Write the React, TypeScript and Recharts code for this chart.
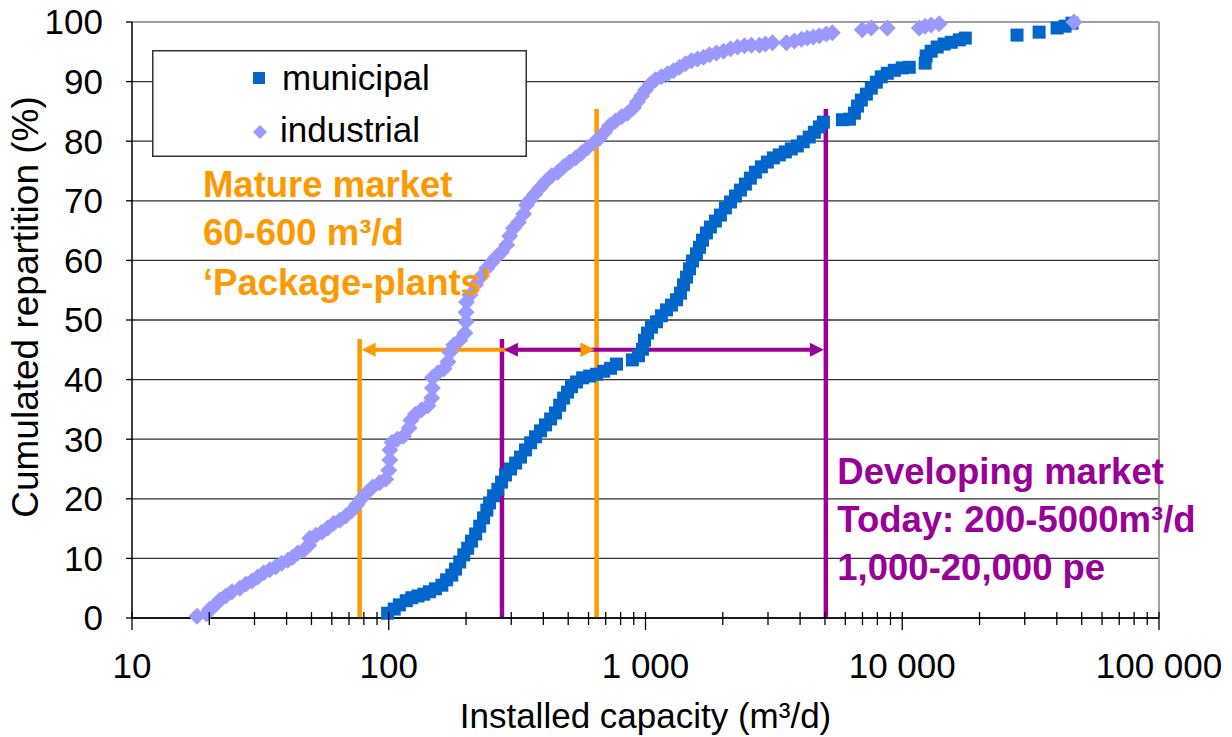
import React from 'react';
import {
  ScatterChart,
  Scatter,
  XAxis,
  YAxis,
  CartesianGrid,
  ReferenceLine,
  ReferenceDot,
  Legend,
  Label,
} from 'recharts';

const FONT = "Arial, 'Liberation Sans', Helvetica, sans-serif";
const BLUE = '#0066CC';
const LILAC = '#9999FF';
const ORANGE = '#FF9900';
const PURPLE = '#990099';

// ---- data ----
const municipalCapacity = [
  99, 105, 110, 117, 123, 130, 137, 144, 152, 161, 168, 176, 182, 189, 196, 203, 210, 218, 226, 234,
  241, 247, 256, 266, 275, 285, 298, 312, 326, 341, 357, 373, 390, 408, 427, 446, 463, 480, 497, 515,
  539, 569, 606, 645, 687, 731, 771, 889, 939, 973, 991, 1018, 1055, 1104, 1153, 1207, 1262, 1321, 1369, 1406,
  1445, 1484, 1525, 1579, 1623, 1667, 1727, 1790, 1872, 1958, 2048, 2143, 2241, 2343, 2450, 2562, 2680, 2827, 2983, 3147,
  3320, 3505, 3698, 3901, 4116, 4342, 4547, 4754, 4931, 5847, 6229, 6511, 6695, 6928, 7250, 7576, 7925, 8285, 8746, 9314,
  10000, 10650, 12280, 12390, 12960, 13680, 14560, 15520, 16680, 17600, 27990, 34120, 40090, 43050, 45810,
];
const municipalShare = [
  0.8, 1.5, 2.2, 2.9, 3.4, 3.7, 4.0, 4.4, 4.9, 5.5, 6.4, 7.2, 8.2, 9.4, 10.6, 11.7, 12.9, 14.1, 15.4, 16.8,
  18.1, 19.3, 20.5, 21.6, 22.8, 24.0, 25.0, 26.0, 27.0, 28.2, 29.4, 30.4, 31.4, 32.4, 33.4, 34.4, 35.7, 36.9, 37.9, 38.8,
  39.6, 40.3, 40.6, 40.9, 41.4, 41.9, 42.6, 43.3, 44.0, 45.1, 46.6, 47.8, 48.8, 49.7, 50.7, 51.7, 52.5, 53.4, 54.5, 55.9,
  57.2, 58.6, 59.9, 61.1, 62.2, 63.4, 64.6, 65.6, 66.6, 67.6, 68.8, 69.8, 70.8, 71.8, 72.8, 73.8, 74.8, 75.7, 76.5, 77.2,
  77.7, 78.2, 78.7, 79.2, 79.9, 80.7, 81.5, 82.4, 83.2, 83.6, 83.7, 84.7, 85.9, 86.9, 87.9, 88.9, 89.9, 90.8, 91.4, 91.9,
  92.3, 92.4, 93.1, 94.3, 95.1, 95.8, 96.3, 96.6, 97.0, 97.3, 97.8, 98.3, 99.0, 99.3, 99.8,
];

const industrialCapacity = [
  17.9, 19.5, 20.1, 21.1, 22.0, 23.2, 24.5, 26.3, 27.8, 29.3, 30.9, 32.6, 34.4, 36.3, 38.3, 40.5, 42.3, 44.2, 46.7, 48.8,
  49.3, 52.0, 54.9, 57.9, 61.1, 64.5, 68.0, 71.8, 75.0, 78.5, 82.1, 86.6, 92.2, 97.3, 100, 101, 101, 103, 108, 114,
  120, 122, 127, 134, 142, 147, 148, 148, 155, 164, 170, 173, 179, 189, 198, 200, 200, 201, 207, 218,
  230, 241, 252, 263, 275, 288, 296, 306, 320, 335, 344, 354, 370, 387, 408, 431, 455, 480, 506, 534,
  564, 595, 628, 662, 692, 724, 764, 807, 851, 898, 931, 965, 1000, 1045, 1093, 1153, 1218, 1285, 1356, 1431,
  1510, 1594, 1682, 1775, 1889, 2013, 2143, 2282, 2430, 2585, 2778, 2932, 3122, 3539, 3800, 4048, 4270, 4505, 4754, 5058,
  5341, 6984, 7568, 8743, 11650, 12280, 12960, 13930, 46660,
];
const industrialShare = [
  0.3, 0.7, 1.5, 2.2, 3.0, 3.7, 4.4, 5.0, 5.7, 6.2, 6.9, 7.6, 8.1, 8.6, 9.2, 9.7, 10.2, 10.9, 11.4, 12.2,
  13.4, 13.9, 14.4, 15.1, 15.9, 16.4, 17.1, 18.0, 19.0, 20.1, 21.0, 22.0, 22.7, 23.3, 24.8, 26.5, 28.2, 29.5, 30.0, 30.5,
  31.9, 33.2, 34.2, 34.9, 35.6, 36.9, 38.6, 40.3, 41.1, 41.8, 43.0, 44.6, 45.8, 46.6, 47.8, 49.7, 51.3, 53.0, 54.2, 55.9,
  57.4, 58.7, 59.7, 60.6, 61.4, 62.6, 64.1, 65.4, 66.4, 67.8, 69.3, 70.1, 71.1, 72.1, 73.2, 74.2, 74.8, 75.7, 76.5, 77.2,
  78.0, 78.9, 79.7, 80.5, 81.5, 82.6, 83.4, 84.1, 84.7, 85.6, 86.6, 87.6, 88.6, 89.6, 90.3, 90.8, 91.3, 91.8, 92.4, 93.0,
  93.5, 93.8, 94.1, 94.5, 94.8, 95.1, 95.5, 95.8, 96.0, 96.1, 96.1, 96.3, 96.5, 96.5, 96.8, 97.1, 97.3, 97.5, 97.7, 98.0,
  98.2, 98.7, 99.0, 99.0, 99.0, 99.3, 99.5, 99.7, 100,
];

const xTicks = [
  10, 20, 30, 40, 50, 60, 70, 80, 90,
  100, 200, 300, 400, 500, 600, 700, 800, 900,
  1000, 2000, 3000, 4000, 5000, 6000, 7000, 8000, 9000,
  10000, 20000, 30000, 40000, 50000, 60000, 70000, 80000, 90000,
  100000,
];
const xMajorTicks = [10, 100, 1000, 10000, 100000];
const xMajorLabels = ['10', '100', '1 000', '10 000', '100 000'];
const yTicks = [0, 10, 20, 30, 40, 50, 60, 70, 80, 90, 100];

// market band limits (m³/d) and heights (%)
const matureLow = 77;
const matureHigh = 645;
const developingLow = 276;
const developingHigh = 5040;
const shortLineTop = 46.8;
const tallLineTop = 85.4;
const arrowLevel = 45;

const matureText = ['Mature market', '60-600 m³/d', '‘Package-plants’'];
const developingText = ['Developing market', 'Today: 200-5000m³/d', '1,000-20,000 pe'];
const matureAnchor = { x: 18.9, y: 70.6 };
const developingAnchor = { x: 5585, y: 22.5 };

const municipalData = municipalCapacity.map((x, i) => ({ x, y: municipalShare[i] }));
const industrialData = industrialCapacity.map((x, i) => ({ x, y: industrialShare[i] }));

// ---- render helpers ----
const SquareMark = (p: any) => (
  <rect x={p.cx - 6.5} y={p.cy - 6.5} width={13} height={13} fill={BLUE} />
);
const DiamondMark = (p: any) => (
  <polygon
    points={`${p.cx},${p.cy - 8.5} ${p.cx + 8.5},${p.cy} ${p.cx},${p.cy + 8.5} ${p.cx - 8.5},${p.cy}`}
    fill={LILAC}
  />
);

const XTick = (props: any) => {
  const { x, y, payload } = props;
  const idx = xMajorTicks.indexOf(payload.value);
  const major = idx >= 0;
  return (
    <g>
      <line x1={x} x2={x} y1={y - 6} y2={y + (major ? 12 : 7)} stroke="#000" strokeWidth={1.3} />
      {major && (
        <text x={x} y={y + 60} textAnchor="middle" fontSize={35} fontFamily={FONT} fill="#000">
          {xMajorLabels[idx]}
        </text>
      )}
    </g>
  );
};

const makeArrow = (color: string, bothHeads: boolean, drawLine: boolean) => (p: any) => {
  const x1 = Number(p.x1);
  const x2 = Number(p.x2);
  const y = Number(p.y1);
  const L = Math.min(x1, x2) + 2;
  const R = Math.max(x1, x2) - 2;
  const hl = 14;
  const hw = 7;
  return (
    <g>
      {drawLine && (
        <line x1={L + (bothHeads ? hl - 2 : 0)} x2={R - hl + 2} y1={y} y2={y} stroke={color} strokeWidth={4} />
      )}
      {bothHeads && <polygon points={`${L},${y} ${L + hl},${y - hw} ${L + hl},${y + hw}`} fill={color} />}
      <polygon points={`${R},${y} ${R - hl},${y - hw} ${R - hl},${y + hw}`} fill={color} />
    </g>
  );
};

const makeTextBlock = (lines: string[], color: string, gaps: number[]) => (p: any) => (
  <g>
    {lines.map((t, i) => (
      <text
        key={i}
        x={p.cx}
        y={p.cy + gaps[i]}
        fontSize={36.5}
        fontWeight="bold"
        fontFamily={FONT}
        fill={color}
      >
        {t}
      </text>
    ))}
  </g>
);

const LegendBox = () => (
  <svg width={375} height={107} style={{ display: 'block' }}>
    <rect x={0.75} y={0.75} width={373.5} height={105.5} fill="#fff" stroke="#333" strokeWidth={1.5} />
    <rect x={101} y={22} width={12} height={12} fill={BLUE} />
    <text x={130} y={40} fontSize={35} fontFamily={FONT} fill="#000">
      municipal
    </text>
    <polygon points="108,75 115,82 108,89 101,82" fill={LILAC} />
    <text x={128} y={92} fontSize={35} fontFamily={FONT} fill="#000">
      industrial
    </text>
  </svg>
);

export default function App() {
  return (
    <div
      style={{
        position: 'fixed',
        left: 0,
        top: 0,
        width: 1232,
        height: 737,
        overflow: 'hidden',
        background: '#fff',
      }}
    >
      <ScatterChart width={1232} height={737} margin={{ top: 22, right: 73, left: 0, bottom: 0 }}>
        <CartesianGrid vertical={false} stroke="#333" strokeWidth={1.3} />
        <XAxis
          type="number"
          dataKey="x"
          scale="log"
          domain={[10, 100000]}
          ticks={xTicks}
          interval={0}
          allowDataOverflow
          tick={<XTick />}
          tickLine={false}
          tickSize={0}
          tickMargin={0}
          axisLine={{ stroke: '#000', strokeWidth: 1.5 }}
          height={119}
        >
          <Label
            content={(props: any) => {
              const vb = props.viewBox || { x: 132, y: 618, width: 1027, height: 119 };
              return (
                <text
                  x={vb.x + vb.width / 2}
                  y={vb.y + 110}
                  textAnchor="middle"
                  fontSize={35}
                  fontFamily={FONT}
                  fill="#000"
                >
                  Installed capacity (m³/d)
                </text>
              );
            }}
          />
        </XAxis>
        <YAxis
          type="number"
          dataKey="y"
          domain={[0, 100]}
          ticks={yTicks}
          interval={0}
          width={132}
          tickSize={6}
          tickMargin={23}
          tickLine={{ stroke: '#000', strokeWidth: 1.3 }}
          axisLine={{ stroke: '#000', strokeWidth: 1.5 }}
          tick={{ fontSize: 35, fontFamily: FONT, fill: '#000' }}
        >
          <Label
            content={(props: any) => {
              const vb = props.viewBox || { x: 0, y: 22, width: 132, height: 596 };
              const cx = vb.x + 38;
              const cy = vb.y + vb.height / 2 - 13;
              return (
                <text
                  x={cx}
                  y={cy}
                  transform={`rotate(-90, ${cx}, ${cy})`}
                  textAnchor="middle"
                  fontSize={37}
                  fontFamily={FONT}
                  fill="#000"
                >
                  Cumulated repartition (%)
                </text>
              );
            }}
          />
        </YAxis>
        <ReferenceLine y={100} stroke="#A0A0A0" strokeWidth={2} />
        <ReferenceLine x={100000} stroke="#A0A0A0" strokeWidth={2} />
        <Legend
          layout="vertical"
          align="center"
          verticalAlign="middle"
          content={<LegendBox />}
          wrapperStyle={{ left: 152, top: 50, width: 375, height: 107 }}
        />
        <Scatter
          name="municipal"
          data={municipalData}
          fill={BLUE}
          shape={SquareMark}
          isAnimationActive={false}
        />
        <Scatter
          name="industrial"
          data={industrialData}
          fill={LILAC}
          shape={DiamondMark}
          isAnimationActive={false}
        />
        {/* vertical market limits */}
        <ReferenceLine
          segment={[{ x: matureLow, y: 0 }, { x: matureLow, y: shortLineTop }]}
          stroke={ORANGE}
          strokeWidth={4.5}
        />
        <ReferenceLine
          segment={[{ x: matureHigh, y: 0 }, { x: matureHigh, y: tallLineTop }]}
          stroke={ORANGE}
          strokeWidth={4.5}
        />
        <ReferenceLine
          segment={[{ x: developingLow, y: 0 }, { x: developingLow, y: shortLineTop }]}
          stroke={PURPLE}
          strokeWidth={4.5}
        />
        <ReferenceLine
          segment={[{ x: developingHigh, y: 0 }, { x: developingHigh, y: tallLineTop }]}
          stroke={PURPLE}
          strokeWidth={4.5}
        />
        {/* arrows */}
        <ReferenceLine
          segment={[{ x: matureLow, y: arrowLevel }, { x: matureHigh, y: arrowLevel }]}
          stroke={ORANGE}
          shape={makeArrow(ORANGE, true, true)}
        />
        <ReferenceLine
          segment={[{ x: developingLow, y: arrowLevel }, { x: developingHigh, y: arrowLevel }]}
          stroke={PURPLE}
          shape={makeArrow(PURPLE, true, true)}
        />
        <ReferenceLine
          segment={[{ x: developingLow, y: arrowLevel }, { x: matureHigh, y: arrowLevel }]}
          stroke={ORANGE}
          shape={makeArrow(ORANGE, false, false)}
        />
        {/* annotation texts */}
        <ReferenceDot
          x={matureAnchor.x}
          y={matureAnchor.y}
          r={0}
          shape={makeTextBlock(matureText, ORANGE, [0, 48, 98])}
        />
        <ReferenceDot
          x={developingAnchor.x}
          y={developingAnchor.y}
          r={0}
          shape={makeTextBlock(developingText, PURPLE, [0, 48, 96])}
        />
      </ScatterChart>
    </div>
  );
}
